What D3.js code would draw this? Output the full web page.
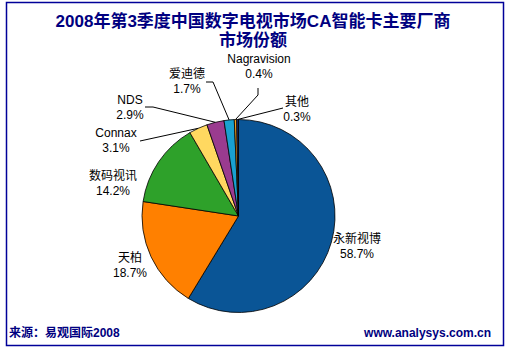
<!DOCTYPE html>
<html>
<head>
<meta charset="utf-8">
<script src="https://cdn.jsdelivr.net/npm/d3@7"></script>
<style>
  body { margin: 0; background: #fff; }
  text { font-family: "Liberation Sans", "Noto Sans CJK SC", sans-serif; }
</style>
</head>
<body>
<div id="chart-area"></div>
<script>
// data
const vendors = ['永新视博', '天柏', '数码视讯', 'Connax', 'NDS', '爱迪德', 'Nagravision', '其他'];
const shares = [58.7, 18.7, 14.2, 3.1, 2.9, 1.7, 0.4, 0.3];
const colors = ['#0a5596', '#ff8000', '#2ea12a', '#ffd860', '#9a3b8f', '#19a0d0', '#f2a020', '#1c2f6e'];

// label layout: [centre x, name y] and the leader line start / elbow
const labelPos = [[357, 243], [130, 262], [113, 180], [116, 137], [130, 104], [187, 78], [259, 63], [297, 106]];
const starts = [null, null, null, [140, 141], [145, 107], [206, 82], [258, 88], [283, 108]];
const elbows = [null, null, null, [140, 141], [153, 107], [213, 82], [258, 95], [283, 108]];

const width = 511, height = 351;
const cx = 238.5, cy = 216, radius = 96.5;

const svg = d3.select('#chart-area')
  .append('svg')
  .attr('width', width)
  .attr('height', height);

// frame
svg.append('rect')
  .attr('x', 6.5).attr('y', 2.5)
  .attr('width', 497).attr('height', 343)
  .attr('fill', 'none')
  .attr('stroke', '#000099')
  .attr('stroke-width', 1.5);

// title
const title = svg.append('text')
  .attr('text-anchor', 'middle')
  .attr('fill', '#000080')
  .attr('font-size', '17px')
  .attr('font-weight', 'bold');
title.append('tspan').attr('x', 253).attr('y', 27).text('2008年第3季度中国数字电视市场CA智能卡主要厂商');
title.append('tspan').attr('x', 253).attr('y', 46).text('市场份额');

// pie
const pie = d3.pie().sort(null).value(d => d);
const arcs = pie(shares);
const arc = d3.arc().innerRadius(0).outerRadius(radius);

const g = svg.append('g')
  .attr('transform', `translate(${cx}, ${cy})`);

g.selectAll('path')
  .data(arcs)
  .enter()
  .append('path')
  .attr('d', arc)
  .attr('fill', (d, i) => colors[i])
  .attr('stroke', '#000')
  .attr('stroke-width', 0.8);

// leader lines for the small slices
const edge = d => {
  const a = (d.startAngle + d.endAngle) / 2;
  return [cx + radius * Math.sin(a), cy - radius * Math.cos(a)];
};
arcs.forEach((d, i) => {
  if (!elbows[i]) return;
  const pts = [starts[i], elbows[i], edge(d)];
  svg.append('path')
    .attr('d', d3.line()(pts))
    .attr('fill', 'none')
    .attr('stroke', '#000')
    .attr('stroke-width', 1);
});

// labels
arcs.forEach((d, i) => {
  const t = svg.append('text')
    .attr('text-anchor', 'middle')
    .attr('font-size', '12px')
    .attr('fill', '#000');
  t.append('tspan').attr('x', labelPos[i][0]).attr('y', labelPos[i][1]).text(vendors[i]);
  t.append('tspan').attr('x', labelPos[i][0]).attr('y', labelPos[i][1] + 15).text(shares[i].toFixed(1) + '%');
});

// footer
svg.append('text')
  .attr('x', 9).attr('y', 337)
  .attr('fill', '#000080')
  .attr('font-size', '12px')
  .attr('font-weight', 'bold')
  .text('来源：易观国际2008');

svg.append('text')
  .attr('x', 491).attr('y', 337)
  .attr('text-anchor', 'end')
  .attr('fill', '#000080')
  .attr('font-size', '12px')
  .attr('font-weight', 'bold')
  .text('www.analysys.com.cn');
</script>
</body>
</html>
